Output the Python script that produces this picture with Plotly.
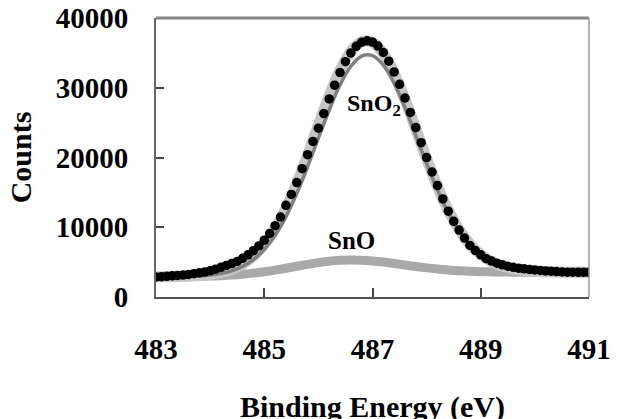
import plotly.graph_objects as go

# Measured XPS points (Sn 3d5/2 region), 0.1 eV step
energy_pts = [round(483.0 + 0.1 * i, 1) for i in range(81)]
counts_pts = [
    2880, 2920, 2970, 3030, 3090, 3150, 3240, 3340, 3460, 3580,
    3760, 3990, 4250, 4520, 4790, 5100, 5550, 6040, 6640, 7320,
    8150, 9120, 10230, 11460, 13150, 14700, 16400, 18400, 20400, 22300,
    24200, 26300, 28390, 30370, 32170, 33730, 35000, 35940, 36530, 36730,
    36550, 35980, 35060, 33810, 32270, 30490, 28530, 26460, 24290, 22120,
    19990, 17920, 15970, 14060, 12300, 10850, 9600, 8450, 7400, 6650,
    6050, 5500, 5150, 4850, 4620, 4420, 4260, 4130, 4040, 3950,
    3880, 3810, 3740, 3690, 3640, 3600, 3560, 3550, 3540, 3540,
    3540,
]

# Fitted curves, 0.2 eV step
energy_fit = [round(483.0 + 0.2 * i, 1) for i in range(41)]
envelope = [
    2910, 2921, 2944, 2990, 3078, 3240, 3522, 3992, 4743, 5883,
    7530, 9785, 12704, 16269, 20338, 24657, 28862, 32523, 35215, 36599,
    36493, 34912, 32066, 28315, 24093, 19825, 15864, 12445, 9689, 7597,
    6096, 5081, 4429, 4032, 3802, 3676, 3610, 3577, 3562, 3555,
    3552,
]
sno2_comp = [
    2905, 2912, 2926, 2958, 3022, 3146, 3369, 3755, 4389, 5376,
    6832, 8861, 11530, 14835, 18655, 22760, 26807, 30384, 33076, 34544,
    34596, 33229, 30632, 27141, 23169, 19127, 15357, 12091, 9452, 7444,
    6002, 5025, 4397, 4014, 3793, 3671, 3608, 3576, 3562, 3555,
    3552,
]
sno_comp = [
    2905, 2909, 2918, 2932, 2957, 2996, 3056, 3142, 3263, 3422,
    3621, 3860, 4127, 4409, 4686, 4935, 5133, 5263, 5312, 5280,
    5174, 5009, 4806, 4586, 4371, 4173, 4004, 3868, 3764, 3688,
    3635, 3601, 3579, 3566, 3558, 3555, 3552, 3551, 3550, 3550,
    3550,
]

x_ticks = [483, 485, 487, 489, 491]
y_ticks = [0, 10000, 20000, 30000, 40000]

serif = "Liberation Serif"

fig = go.Figure()
fig.add_trace(go.Scatter(x=energy_fit, y=sno_comp, mode="lines",
                         line=dict(color="#a9a9a9", width=9, shape="spline"),
                         showlegend=False, name="SnO"))
fig.add_trace(go.Scatter(x=energy_fit, y=envelope, mode="lines",
                         line=dict(color="#c6c6c6", width=11, shape="spline"),
                         showlegend=False, name="Fit"))
fig.add_trace(go.Scatter(x=energy_fit, y=sno2_comp, mode="lines",
                         line=dict(color="#808080", width=3.5, shape="spline"),
                         showlegend=False, name="SnO2"))
fig.add_trace(go.Scatter(x=energy_pts, y=counts_pts, mode="markers",
                         marker=dict(color="black", size=9.5),
                         showlegend=False, name="Data"))

fig.add_annotation(x=486.49, y=27530, text="SnO<sub>2</sub>", showarrow=False,
                   xanchor="left", yanchor="middle",
                   font=dict(family=serif, size=24, color="black", weight="bold"))
fig.add_annotation(x=486.62, y=8170, text="SnO", showarrow=False,
                   xanchor="center", yanchor="middle",
                   font=dict(family=serif, size=25, color="black", weight="bold"))

# x-axis title (partly below the bottom edge, as in the original)
fig.add_annotation(x=0.5, y=-0.325, xref="paper", yref="paper",
                   text="Binding Energy (eV)", showarrow=False,
                   xanchor="center", yanchor="top",
                   font=dict(family=serif, size=30, color="black", weight="bold"))

# top and right frame
fig.add_shape(type="line", xref="paper", yref="paper", x0=0, x1=1, y0=1, y1=1,
              line=dict(color="#858585", width=3))
fig.add_shape(type="line", xref="paper", yref="paper", x0=1, x1=1, y0=0, y1=1,
              line=dict(color="#999999", width=1.5))

fig.update_layout(
    width=625, height=419,
    margin=dict(l=156, r=36, t=18, b=122, autoexpand=False),
    plot_bgcolor="white", paper_bgcolor="white",
    xaxis=dict(range=[483, 491], tickvals=x_ticks, ticktext=[str(v) for v in x_ticks],
               ticks="inside", ticklen=9, tickcolor="#444", tickwidth=1.5,
               showline=True, linecolor="#555", linewidth=2, showgrid=False, zeroline=False,
               automargin=False,
               tickfont=dict(family=serif, size=29, color="black", weight="bold"),
               ticklabelstandoff=25),
    yaxis=dict(range=[0, 40000], tickvals=y_ticks, ticktext=[str(v) for v in y_ticks],
               ticks="inside", ticklen=8, tickcolor="#444", tickwidth=1.5,
               showline=True, linecolor="#666", linewidth=2, showgrid=False, zeroline=False,
               automargin=False,
               tickfont=dict(family=serif, size=29, color="black", weight="bold"),
               ticklabelstandoff=20,
               title=dict(text="Counts", standoff=15,
                          font=dict(family=serif, size=30, color="black", weight="bold"))),
)

fig.write_html("out.html")
